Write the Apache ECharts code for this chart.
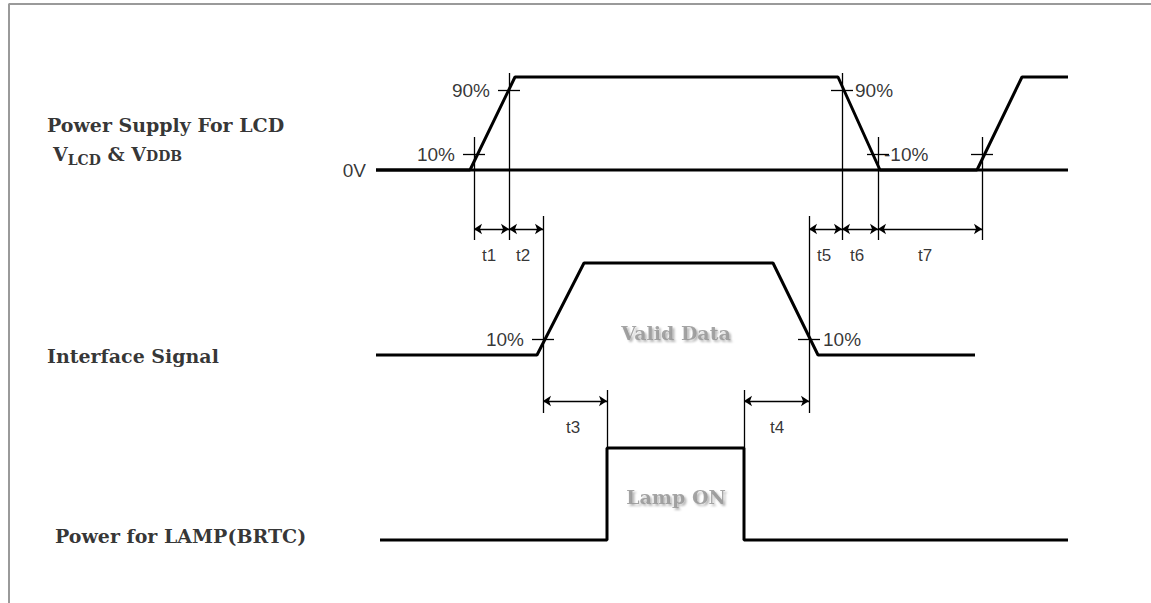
<!DOCTYPE html>
<html>
<head>
<meta charset="utf-8">
<script src="https://cdn.jsdelivr.net/npm/echarts@6/dist/echarts.min.js"></script>
<style>
  html, body { margin: 0; padding: 0; background: #fff; }
  #main { width: 1151px; height: 603px; }
</style>
</head>
<body>
<div id="main"></div>
<script>
// waveform break points (time on x) and levels (0 = low, 1 = high)
const supplyT = [376, 470, 515, 838, 880, 977, 1022, 1068]
const supplyLv = [0, 0, 1, 1, 0, 0, 1, 1]
const ifaceT = [376, 537, 584, 773, 818, 975]
const ifaceLv = [0, 0, 1, 1, 0, 0]
const lampT = [380, 607, 607, 744, 744, 1068]
const lampLv = [0, 0, 1, 1, 0, 0]

// 0V reference line of the supply row
const zeroT = [376, 1068]
const zeroLv = [0, 0]

// each row: low and high level on the y scale
const rowLow = [170, 355, 540]
const rowHigh = [77, 263, 448]

// timing reference lines [t, from, to] and 10%/90% ticks [t, y]
const refLines = [[474, 137, 240], [509, 73, 240], [543, 216, 413], [809, 216, 413],
  [842, 73, 240], [878, 137, 240], [982, 137, 240], [607, 390, 448], [744, 390, 448]]
const crossTicks = [[474, 154], [509, 90], [543, 339], [809, 339], [842, 90], [878, 154], [982, 154]]

// timing spans: name, start, end, arrow y
const spanNames = ['t1', 't2', 't5', 't6', 't7', 't3', 't4']
const spanStart = [474, 509, 809, 842, 878, 543, 744]
const spanEnd = [509, 543, 842, 878, 982, 607, 809]
const spanY = [229, 229, 229, 229, 229, 401, 401]
const spanLabelX = [489, 523, 824, 857, 925, 573, 777]
const spanLabelY = [255, 255, 255, 255, 255, 427, 427]

// level labels: text, x, y, align
const pctText = ['90%', '10%', '0V', '90%', '-10%', '10%', '10%']
const pctX = [490, 455, 366, 855, 884, 524, 823]
const pctY = [90, 154, 170, 90, 154, 339, 339]
const pctAlign = ['right', 'right', 'right', 'left', 'left', 'right', 'left']

const rowNames = ['Power Supply For LCD', 'Interface Signal', 'Power for LAMP(BRTC)']
const rowNameX = [47, 47, 55]
const rowNameY = [125, 356, 536]

function wave (ts, lvs, row) {
  return ts.map((t, i) => [t, rowLow[row] - lvs[i] * (rowLow[row] - rowHigh[row])])
}

const serif = 'DejaVu Serif'
const sans = 'Liberation Sans'

function textItem (x, y, text, align, style) {
  return {
    value: [x, y],
    label: Object.assign({
      show: true,
      position: 'inside',
      formatter: text,
      align: align,
      verticalAlign: 'middle',
      color: '#000'
    }, style)
  }
}

const texts = []
pctText.forEach((t, i) => {
  texts.push(textItem(pctX[i], pctY[i], t, pctAlign[i], { fontFamily: sans, fontSize: 19 }))
})
spanNames.forEach((t, i) => {
  texts.push(textItem(spanLabelX[i], spanLabelY[i], t, 'center', { fontFamily: sans, fontSize: 17 }))
})
rowNames.forEach((t, i) => {
  texts.push(textItem(rowNameX[i], rowNameY[i], t, 'left', { fontFamily: serif, fontSize: 19, fontWeight: 'bold' }))
})
texts.push({
  value: [53, 154],
  label: {
    show: true,
    position: 'inside',
    align: 'left',
    verticalAlign: 'middle',
    formatter: '{v|V}{sub|LCD}{v| & V}{sc|DDB}',
    rich: {
      v: { fontFamily: serif, fontWeight: 'bold', fontSize: 19, color: '#000' },
      sub: { fontFamily: serif, fontWeight: 'bold', fontSize: 14, color: '#000', padding: [12, 0, 0, 0] },
      sc: { fontFamily: serif, fontWeight: 'bold', fontSize: 14, color: '#000', padding: [3, 0, 0, 0] }
    }
  }
})
const shadowText = {
  fontFamily: serif,
  fontWeight: 'bold',
  fontSize: 19,
  color: '#8f8f8f',
  textShadowColor: 'rgba(0,0,0,0.35)',
  textShadowBlur: 2,
  textShadowOffsetX: 2,
  textShadowOffsetY: 2
}
texts.push(textItem(676, 333, 'Valid Data', 'center', shadowText))
texts.push(textItem(676, 497, 'Lamp ON', 'center', shadowText))

const thinLines = refLines.map(r => ({ coords: [[r[0], r[1]], [r[0], r[2]]] }))
  .concat(crossTicks.map(c => ({ coords: [[c[0] - 11, c[1]], [c[0] + 11, c[1]]] })))

const spans = spanNames.map((n, i) => ({ coords: [[spanStart[i], spanY[i]], [spanEnd[i], spanY[i]]] }))

function waveSeries (data) {
  return {
    type: 'line',
    data: data,
    symbol: 'none',
    lineStyle: { color: '#000', width: 3 },
    silent: true
  }
}

const chart = echarts.init(document.getElementById('main'), null, { renderer: 'svg' })
chart.setOption({
  animation: false,
  grid: { left: 0, right: 0, top: 0, bottom: 0 },
  xAxis: { type: 'value', min: 0, max: 1151, show: false },
  yAxis: { type: 'value', min: 0, max: 603, inverse: true, show: false },
  series: [
    {
      // picture frame
      type: 'line',
      data: [[9, 603], [9, 4], [1151, 4]],
      symbol: 'none',
      lineStyle: { color: '#9a9a9a', width: 2 }
    },
    waveSeries(wave(zeroT, zeroLv, 0)),
    waveSeries(wave(supplyT, supplyLv, 0)),
    waveSeries(wave(ifaceT, ifaceLv, 1)),
    waveSeries(wave(lampT, lampLv, 2)),
    {
      type: 'lines',
      coordinateSystem: 'cartesian2d',
      data: thinLines,
      lineStyle: { color: '#000', width: 1.3, opacity: 1 },
      silent: true
    },
    {
      type: 'lines',
      coordinateSystem: 'cartesian2d',
      data: spans,
      symbol: ['arrow', 'arrow'],
      symbolSize: 8,
      lineStyle: { color: '#000', width: 1.3, opacity: 1 },
      silent: true
    },
    {
      type: 'scatter',
      data: texts,
      symbolSize: 0,
      silent: true
    }
  ]
})
</script>
</body>
</html>
